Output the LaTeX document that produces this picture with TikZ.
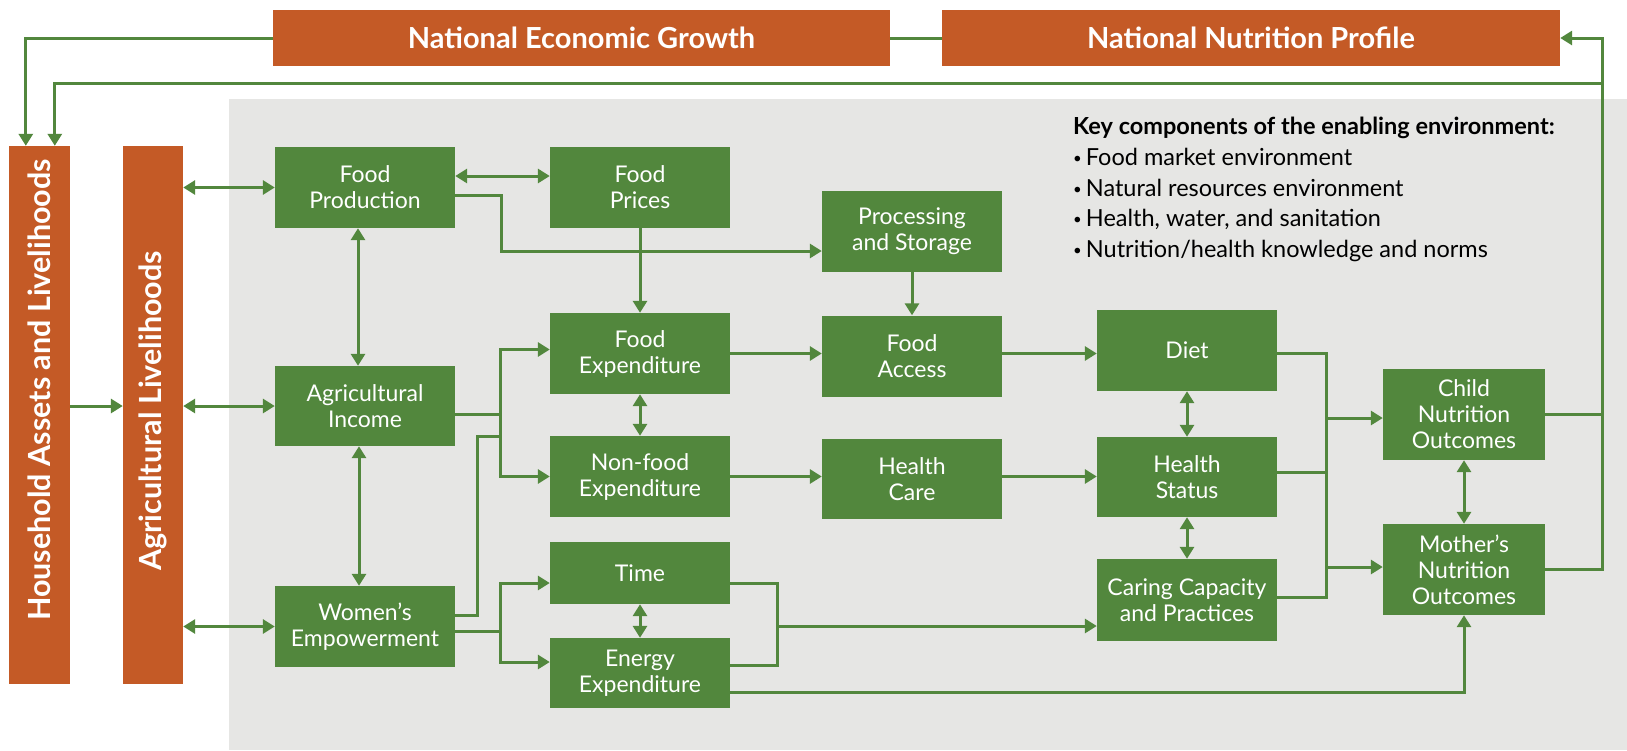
\documentclass[tikz,border=0pt]{standalone}
\usepackage{fontspec}
\setmainfont{Lato}
\usetikzlibrary{arrows.meta,calc}
\definecolor{org}{RGB}{196,90,38}
\definecolor{grn}{RGB}{82,135,61}
\definecolor{bgc}{RGB}{230,230,228}
\newcommand{\kbul}{\raisebox{2pt}{\fontsize{15}{15}\selectfont •}\hspace{4pt}}
\begin{document}
\begin{tikzpicture}[x=1pt,y=-1pt,
  gbox/.style={fill=grn,text=white,align=center,inner sep=0pt,minimum width=180pt,font=\fontsize{23}{26}\selectfont},
  obox/.style={fill=org,inner sep=0pt,text=white,font=\bfseries\fontsize{29}{32}\selectfont},
  vtext/.style={rotate=90,text=white,inner sep=0pt,font=\bfseries\fontsize{30.5}{32}\selectfont},
  ln/.style={draw=grn,line width=3pt},
  arr/.style={ln,-{Triangle[length=12pt,width=14pt]}},
  darr/.style={ln,{Triangle[length=12pt,width=14pt]}-{Triangle[length=12pt,width=14pt]}}]
\useasboundingbox (0,0) rectangle (1627,750);
\fill[white] (0,0) rectangle (1627,750);
\fill[bgc] (229,99) rectangle (1627,750);

% orange boxes
\node[obox,minimum width=617pt,minimum height=56pt] (neg) at (581.5,38) {National Economic Growth};
\node[obox,minimum width=618pt,minimum height=56pt] (nnp) at (1251,38) {National Nutrition Profile};
\node[obox,minimum width=61pt,minimum height=538pt] (hh) at (39.5,415) {};
\node[obox,minimum width=60pt,minimum height=538pt] (agl) at (153,415) {};
\node[vtext] (hhtxt) at (39.5,390) {Household Assets and Livelihoods};
\node[vtext] (agltxt) at (153,411) {Agricultural Livelihoods};

% green boxes
\node[gbox,minimum height=81pt] (fp) at (365,187.5) {Food\\Production};
\node[gbox,minimum height=81pt] (fpr) at (640,187.5) {Food\\Prices};
\node[gbox,minimum height=81pt] (proc) at (912,231.5) {Processing\\and Storage};
\node[gbox,minimum height=81pt] (fe) at (640,353.5) {Food\\Expenditure};
\node[gbox,minimum height=81pt] (fa) at (912,356) {Food\\Access};
\node[gbox,minimum height=81pt] (diet) at (1187,350.5) {Diet};
\node[gbox,minimum height=80pt] (ai) at (365,406) {Agricultural\\Income};
\node[gbox,minimum height=81pt] (nf) at (640,476.5) {Non-food\\Expenditure};
\node[gbox,minimum height=80pt] (hc) at (912,479) {Health\\Care};
\node[gbox,minimum height=80pt] (hs) at (1187,477) {Health\\Status};
\node[gbox,minimum width=162pt,minimum height=91pt] (child) at (1464,414.5) {Child\\Nutrition\\Outcomes};
\node[gbox,minimum width=162pt,minimum height=91pt] (mother) at (1464,569.5) {Mother’s\\Nutrition\\Outcomes};
\node[gbox,minimum height=62pt] (time) at (640,573) {Time};
\node[gbox,minimum height=70pt] (energy) at (640,673) {Energy\\Expenditure};
\node[gbox,minimum height=81pt] (women) at (365,626.5) {Women’s\\Empowerment};
\node[gbox,minimum height=82pt] (caring) at (1187,600) {Caring Capacity\\and Practices};

% key components
\node[anchor=north west,align=left,inner sep=0pt,text=black,font=\fontsize{23.5}{30.7}\selectfont] (key) at (1073,117)
  {\textbf{Key components of the enabling environment:}\\
   \kbul Food market environment\\
   \kbul Natural resources environment\\
   \kbul Health, water, and sanitation\\
   \kbul Nutrition/health knowledge and norms};

% top connectors
\draw[ln] (neg.east) -- (nnp.west);
\draw[arr] (neg.west) -| ($(hh.north west)+(17,0)$);
\draw[arr] (mother.east) -| ($(nnp.east)+(42,0)$) -- (nnp.east);
\draw[ln] (child.east) -- ($(child.east)+(57,0)$);
\draw[arr] ($(nnp.east)+(42,45)$) -| ($(hh.north west)+(46,0)$);

% left side
\draw[arr] (hh.east |- ai.west) -- (agl.west |- ai.west);
\draw[darr] (agl.east |- fp.west) -- (fp.west);
\draw[darr] (agl.east |- ai.west) -- (ai.west);
\draw[darr] (agl.east |- women.west) -- (women.west);
\draw[darr] ($(fp.south)+(-7,0)$) -- ($(ai.north)+(-7,0)$);
\draw[darr] ($(ai.south)+(-6,0)$) -- ($(women.north)+(-6,0)$);

% food production row
\draw[darr] ($(fp.east)+(0,-11.5)$) -- ($(fpr.west)+(0,-11.5)$);
\draw[arr] ($(fp.east)+(0,7.5)$) -- ++(46,0) |- ($(proc.west)+(0,19.5)$);
\draw[arr] (fpr.south) -- (fe.north);
\draw[arr] (proc.south) -- (fa.north);

% income / empowerment
\draw[arr] ($(ai.east)+(0,8)$) -- ++(45,0) |- ($(fe.west)+(0,-4)$);
\draw[arr] ($(ai.east)+(45,8)$) |- (nf.west);
\draw[ln] ($(women.east)+(0,-11.5)$) -- ++(22,0) |- ($(ai.east)+(45,30)$);
\draw[arr] ($(women.east)+(0,4.5)$) -- ++(45,0) |- ($(time.west)+(0,10)$);
\draw[arr] ($(women.east)+(45,4.5)$) |- ($(energy.west)+(0,-11)$);

% middle
\draw[darr] (fe.south) -- (nf.north);
\draw[darr] (time.south) -- (energy.north);
\draw[arr] (fe.east) -- (fe.east -| fa.west);
\draw[arr] (fa.east |- fe.east) -- (diet.west |- fe.east);
\draw[arr] (nf.east) -- (nf.east -| hc.west);
\draw[arr] (hc.east |- nf.east) -- (hs.west |- nf.east);
\draw[ln] ($(time.east)+(0,10)$) -- ++(47,0) |- ($(energy.east)+(0,-8)$);
\draw[arr] ($(time.east)+(47,53)$) -- ($(caring.west)+(0,26)$);
\draw[arr] ($(energy.east)+(0,19)$) -| (mother.south);

% right
\draw[darr] (diet.south) -- (hs.north);
\draw[darr] (hs.south) -- (caring.north);
\draw[darr] (child.south) -- (mother.north);
\draw[ln] ($(diet.east)+(0,2.5)$) -- ++(49,0) |- ($(caring.east)+(0,-3)$);
\draw[ln] ($(hs.east)+(0,-5)$) -- ++(49,0);
\draw[arr] ($(child.west)+(-57,3.5)$) -- ($(child.west)+(0,3.5)$);
\draw[arr] ($(mother.west)+(-57,-2.5)$) -- ($(mother.west)+(0,-2.5)$);
\end{tikzpicture}
\end{document}
